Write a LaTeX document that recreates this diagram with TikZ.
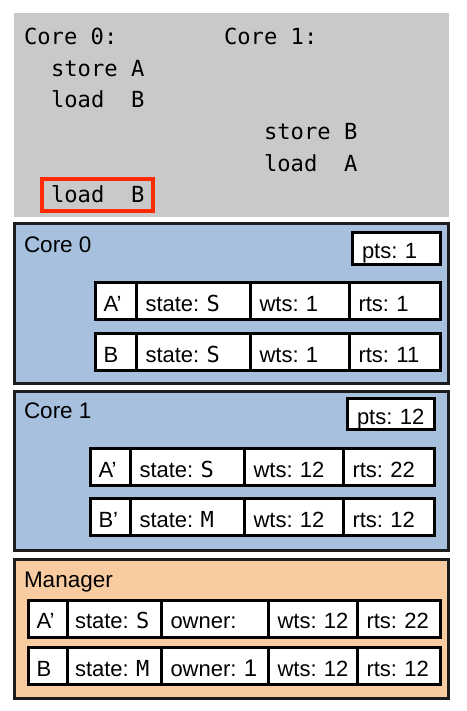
\documentclass[tikz,border=0pt]{standalone}
\usepackage{fontspec}
\setmainfont{Liberation Sans}
\newfontfamily\codefont{DejaVu Sans Mono}
\definecolor{graybg}{HTML}{C9C9C9}
\definecolor{bluebg}{HTML}{A6C0DE}
\definecolor{peachbg}{HTML}{F9CBA0}
\definecolor{edge}{HTML}{1C1C1C}
\definecolor{hired}{HTML}{FF2A00}
\newcommand\pdA{\hspace*{8pt}}
\newcommand\pdB{\hspace*{9.5pt}}
\newcommand\mono[1]{{\codefont #1}}
\begin{document}
\frenchspacing
\begin{tikzpicture}[x=1pt,y=-1pt,
  code/.style={font=\codefont\fontsize{22.15}{26}\selectfont, anchor=base west, inner sep=0pt, outer sep=0pt},
  lbl/.style={font=\fontsize{22.5}{26}\selectfont, anchor=base west, inner sep=0pt, outer sep=0pt},
  panel/.style={draw=edge, line width=3pt, anchor=north west, inner sep=0pt, outer sep=0pt},
  cell/.style={draw=black, line width=3pt, fill=white, inner sep=0pt, outer sep=0pt,
    anchor=north west, align=left, text height=28.5pt, text depth=8.5pt,
    font=\fontsize{22}{25}\selectfont\frenchspacing},
  ptsbox/.style={cell, text height=25.5pt, text depth=6pt},
]
\useasboundingbox (0,0) rectangle (466,711);

% program listing
\node[fill=graybg, anchor=north west, inner sep=0pt, outer sep=0pt,
      minimum width=435pt, minimum height=204pt] (prog) at (14,13) {};
\node[code] (c0h) at (24,45) {Core 0:};
\node[code] (c1h) at (224,45) {Core 1:};
\node[code] (s0a) at (51,77) {store A};
\node[code] (l0b) at (51,108) {load\ \ B};
\node[code] (s1b) at (264,140) {store B};
\node[code] (l1a) at (264,172) {load\ \ A};
\node[code, draw=hired, line width=4pt, inner xsep=9pt, inner ysep=0pt,
      text height=24pt, text depth=8pt] (l0b2) at (42,203) {load\ \ B};

% Core 0
\node[panel, fill=bluebg, minimum width=434pt, minimum height=160pt] (core0) at (14.5,223.5) {};
\node[lbl] (core0lbl) at (24,252) {Core 0};
\node[ptsbox, text width=88pt] (p0) at (352.5,232.5) {\pdB pts: 1};
\node[cell, text width=40.5pt] (a0n) at (95.5,282.5) {\pdA A’};
\node[cell, text width=114pt] (a0s) at (a0n.north east) {\pdB state: \mono{S}};
\node[cell, text width=99pt] (a0w) at (a0s.north east) {\pdB wts: 1};
\node[cell, text width=91.5pt] (a0r) at (a0w.north east) {\pdB rts: 1};
\node[cell, text width=40.5pt] (b0n) at (95.5,333.5) {\pdA B};
\node[cell, text width=114pt] (b0s) at (b0n.north east) {\pdB state: \mono{S}};
\node[cell, text width=99pt] (b0w) at (b0s.north east) {\pdB wts: 1};
\node[cell, text width=91.5pt] (b0r) at (b0w.north east) {\pdB rts: 11};

% Core 1
\node[panel, fill=bluebg, minimum width=434pt, minimum height=159pt] (core1) at (14.5,391.5) {};
\node[lbl] (core1lbl) at (24,418.5) {Core 1};
\node[ptsbox, text width=87pt, text depth=5.5pt] (p1) at (347.5,398.5) {\pdB pts: 12};
\node[cell, text width=39.5pt] (a1n) at (90.5,448.5) {\pdA A’};
\node[cell, text width=114pt] (a1s) at (a1n.north east) {\pdB state: \mono{S}};
\node[cell, text width=99pt] (a1w) at (a1s.north east) {\pdB wts: 12};
\node[cell, text width=91.5pt] (a1r) at (a1w.north east) {\pdB rts: 22};
\node[cell, text width=39.5pt] (b1n) at (90.5,498.5) {\pdA B’};
\node[cell, text width=114pt] (b1s) at (b1n.north east) {\pdB state: \mono{M}};
\node[cell, text width=99pt] (b1w) at (b1s.north east) {\pdB wts: 12};
\node[cell, text width=91.5pt] (b1r) at (b1w.north east) {\pdB rts: 12};

% Manager
\node[panel, fill=peachbg, minimum width=434pt, minimum height=139pt] (mgr) at (14.5,559.5) {};
\node[lbl] (mgrlbl) at (24,587) {Manager};
\node[cell, text width=38.5pt] (amn) at (28.5,600) {\pdA A’};
\node[cell, text width=94pt] (ams) at (amn.north east) {\pdA state: \mono{S}};
\node[cell, text width=107pt] (amo) at (ams.north east) {\pdB owner:};
\node[cell, text width=89pt] (amw) at (amo.north east) {\pdB wts: 12};
\node[cell, text width=83.5pt] (amr) at (amw.north east) {\pdB rts: 22};
\node[cell, text width=38.5pt] (bmn) at (28.5,647.5) {\pdA B};
\node[cell, text width=94pt] (bms) at (bmn.north east) {\pdA state: \mono{M}};
\node[cell, text width=107pt] (bmo) at (bms.north east) {\pdB owner: {\fontsize{24}{26}\selectfont 1}};
\node[cell, text width=89pt] (bmw) at (bmo.north east) {\pdB wts: 12};
\node[cell, text width=83.5pt] (bmr) at (bmw.north east) {\pdB rts: 12};
\end{tikzpicture}
\end{document}
